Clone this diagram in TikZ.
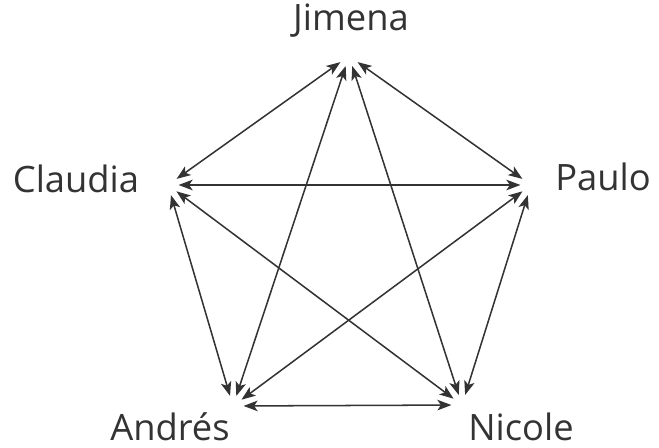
\documentclass[tikz,border=0pt]{standalone}
\usepackage{fontspec}
\setmainfont{Open Sans}
\usepackage{xcolor}
\usetikzlibrary{arrows.meta, positioning}
\definecolor{inkgray}{HTML}{333333}

\begin{document}
\begin{tikzpicture}[x=0.03cm, y=-0.03cm, >={Stealth[length=12pt, width=9pt, inset=3pt]}]
      \useasboundingbox (0,0) rectangle (659,448);
      \tikzset{
        person/.style={font=\fontsize{31}{34}\selectfont, text=inkgray, anchor=base, inner sep=0pt},
        hub/.style={circle, minimum size=0.62cm, inner sep=0pt},
        link/.style={<->, draw=inkgray, line width=1.3pt}
      }

      % Names
      \node[person] (jimena) at (351,30) {Jimena};
      \node[person] (claudia) at (76,192) {Claudia};
      \node[person] (paulo) at (603,190) {Paulo};
      \node[person] (andres) at (170,440) {Andrés};
      \node[person] (nicole) at (521,440) {Nicole};

      % Meeting points of the arrows
      \node[hub] (J) at (349,56) {};
      \node[hub] (C) at (168,185) {};
      \node[hub] (P) at (531,185) {};
      \node[hub] (A) at (233,406) {};
      \node[hub] (N) at (462,405) {};

      % Every pair is linked both ways
      \foreach \a/\b in {J/C, J/P, J/A, J/N, C/P, C/A, C/N, P/A, P/N, A/N} {
        \draw[link] (\a) -- (\b);
      }
\end{tikzpicture}
\end{document}
